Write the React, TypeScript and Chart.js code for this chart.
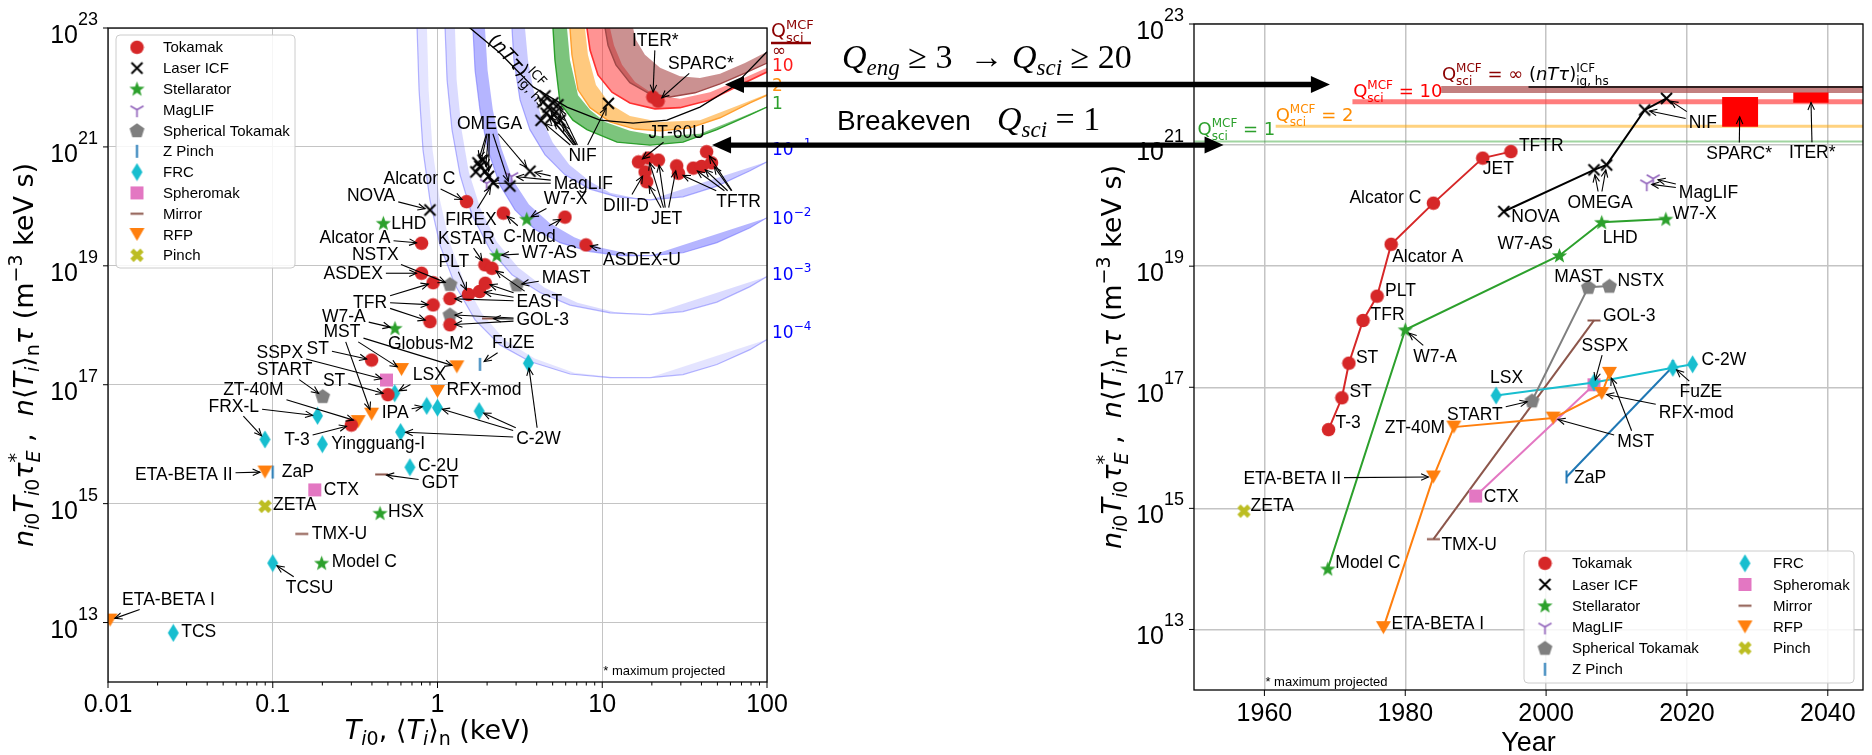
import React, { useEffect, useRef } from 'react';
import { Chart, registerables } from 'chart.js';

Chart.register(...registerables);

const W = 1872;
const H = 755;
const SANS = "'Liberation Sans', Arial, Helvetica, sans-serif";
const DJ = "'DejaVu Sans', sans-serif";
const SERIF = "'Liberation Serif', 'Times New Roman', serif";

/* ================= LEFT PANEL : n T tau vs T ================= */
const L_X_TICKS = [0.01, 0.1, 1, 10, 100];
const L_X_TICK_LABELS = ['0.01', '0.1', '1', '10', '100'];
const Y_TICK_EXP = [13, 15, 17, 19, 21, 23];

// [id, T_i0 (keV), n T tau (m^-3 keV s)]
const L_TOKAMAK = [
  ['ITER', 20.3, 6.9e21], ['SPARC', 21.8, 5.9e21],
  ['JT60U', 16.6, 5.6e20], ['jet1', 19.0, 6.5e20], ['jet2', 21.9, 6.0e20], ['d3d1', 18.2, 3.8e20], ['d3d2', 18.6, 2.6e20],
  ['jet3', 28.3, 4.8e20], ['jet4', 29.0, 3.6e20], ['tftr1', 35.7, 4.4e20], ['tftr2', 40.1, 4.7e20], ['tftr3', 43.0, 8.3e20], ['tftr4', 46.0, 5.4e20],
  ['AlcC', 1.5, 1.2e20], ['CMod1', 2.51, 7.7e19], ['CMod2', 5.94, 6.6e19], ['AUG', 7.97, 2.25e19],
  ['KSTAR', 1.94, 1.04e19], ['east0', 2.14, 9.1e18], ['AlcA', 0.8, 2.4e19], ['ASDEX', 0.8, 7.5e18],
  ['tfr1', 0.94, 5.2e18], ['PLT', 1.54, 3.3e18], ['east1', 1.8, 3.7e18], ['east2', 1.95, 5.1e18], ['east3', 1.19, 2.8e18],
  ['tfr2', 0.94, 2.2e18], ['tfr3', 0.9, 1.15e18], ['gol', 1.19, 1.02e18],
  ['ST1', 0.398, 2.6e17], ['ST2', 0.5, 6.8e16], ['T3', 0.3, 2.1e16],
];
const L_LASER = [
  ['NOVA', 0.9, 8.7e19],
  ['om1', 1.81, 4.7e20], ['om2', 1.95, 3.9e20], ['om3', 2.04, 3.2e20], ['om4', 1.76, 5.4e20], ['om5', 1.89, 6.0e20], ['om6', 1.71, 3.8e20],
  ['om7', 3.64, 3.9e20], ['om8', 2.75, 2.2e20], ['FIREX', 2.18, 2.5e20],
  ['nif1', 4.37, 5.7e21], ['nif2', 4.69, 4.7e21], ['nif3', 5.02, 5.5e21], ['nif4', 4.56, 3.7e21], ['nif5', 5.24, 3.9e21],
  ['nif6', 4.89, 3.1e21], ['nif7', 5.54, 2.8e21], ['nif8', 4.25, 2.8e21], ['nif9', 5.38, 5.1e21], ['nif10', 4.49, 7.2e21],
  ['NIF', 10.9, 5.4e21],
];
const L_STELL = [['LHD', 0.469, 5.2e19], ['W7X', 3.48, 6.1e19], ['W7AS', 2.29, 1.5e19], ['W7A', 0.552, 8.9e17], ['HSX', 0.448, 6.9e14], ['ModelC', 0.198, 1.0e14]];
const L_MAGLIF = [['mag1', 1.99, 2.45e20], ['mag2', 2.82, 3.2e20]];
const L_SPHTOK = [['NSTX', 1.19, 4.9e18], ['MAST', 3.03, 4.8e18], ['Globus', 1.19, 1.5e18], ['START', 0.201, 6.4e16]];
const L_ZPINCH = [['FuZE', 1.81, 2.2e17], ['ZaP', 0.1, 3.4e15]];
const L_FRC = [
  ['C2W1', 3.56, 2.3e17], ['LSX', 0.55, 7.2e16], ['IPA', 0.86, 4.4e16], ['C2W2', 1.0, 4.1e16], ['C2W3', 1.79, 3.6e16],
  ['FRXL1', 0.187, 3.0e16], ['FRXL2', 0.0897, 1.2e16], ['YG', 0.2, 1.0e16], ['C2W4', 0.597, 1.6e16], ['C2U', 0.68, 4.1e15],
  ['TCSU', 0.1, 1e14], ['TCS', 0.0249, 6.7e12],
];
const L_SPHEROMAK = [['SSPX', 0.49, 1.2e17], ['CTX', 0.18, 1.7e15]];
const L_MIRROR = [['GOL3', 2.04, 1.3e18], ['GDT', 0.458, 3.1e15], ['TMXU', 0.15, 3.1e14]];
const L_RFP = [['MST1', 0.605, 1.8e17], ['MST2', 1.31, 2.0e17], ['RFX', 1.0, 7.7e16], ['MST3', 0.398, 3.2e16], ['ZT40M', 0.33, 2.4e16], ['EB2', 0.0897, 3.4e15], ['EB1', 0.0103, 1.1e13]];
const L_PINCH = [['ZETA', 0.0897, 9e14]];

// Contours, as [log10 T, log10 nTtau]
const L_Q1_OUT = [[0.697, 23.4], [0.701, 23], [0.713, 22.46], [0.744, 21.74], [0.822, 21.45], [0.907, 21.29], [1.09, 21.08], [1.29, 21.03], [1.49, 21.08], [1.696, 21.29], [1.897, 21.54], [2.0, 21.67]];
const L_Q1_IN = [[0.78, 23.4], [0.786, 23], [0.804, 22.46], [0.853, 21.87], [0.926, 21.62], [1.017, 21.42], [1.168, 21.27], [1.351, 21.18], [1.593, 21.22], [1.836, 21.49], [2.0, 21.68]];
const L_Q2_OUT = [[0.8, 23.4], [0.804, 23], [0.816, 22.55], [0.853, 21.96], [0.926, 21.66], [1.047, 21.42], [1.199, 21.3], [1.351, 21.27], [1.533, 21.32], [1.715, 21.49], [1.897, 21.74], [2.0, 21.87]];
const L_Q2_IN = [[0.89, 23.4], [0.895, 23], [0.913, 22.55], [0.962, 22.04], [1.047, 21.72], [1.168, 21.52], [1.351, 21.42], [1.593, 21.45], [1.836, 21.71], [2.0, 21.89]];
const L_Q10_OUT = [[0.9, 23.4], [0.907, 23], [0.926, 22.63], [0.974, 22.21], [1.059, 21.92], [1.168, 21.74], [1.32, 21.64], [1.472, 21.66], [1.654, 21.79], [1.836, 22.04], [2.0, 22.26]];
const L_Q10_IN = [[1.04, 23.4], [1.047, 23], [1.071, 22.71], [1.12, 22.38], [1.199, 22.09], [1.32, 21.87], [1.472, 21.81], [1.654, 21.92], [1.836, 22.13], [2.0, 22.33]];
const L_QINF_OUT = [[1.01, 23.4], [1.017, 23], [1.035, 22.71], [1.083, 22.38], [1.168, 22.08], [1.29, 21.89], [1.411, 21.84], [1.563, 21.91], [1.715, 22.06], [1.866, 22.24], [2.0, 22.41]];
const L_QINF_IN = [[1.18, 23.4], [1.187, 23], [1.205, 22.8], [1.259, 22.55], [1.351, 22.33], [1.472, 22.19], [1.593, 22.16], [1.715, 22.23], [1.866, 22.41], [2.0, 22.6]];
const L_B1_OUT = [[0.448, 23.4], [0.452, 23], [0.464, 22.46], [0.501, 21.79], [0.561, 21.29], [0.652, 20.87], [0.774, 20.53], [0.926, 20.29], [1.09, 20.16], [1.29, 20.11], [1.49, 20.16], [1.696, 20.34], [1.897, 20.6], [2.0, 20.75]];
const L_B1_IN = [[0.527, 23.4], [0.531, 23], [0.549, 22.46], [0.58, 21.99], [0.635, 21.45], [0.7, 21.07], [0.8, 20.7], [0.926, 20.42], [1.047, 20.23], [1.199, 20.14], [1.29, 20.11]];
const L_B2_OUT = [[0.211, 23.4], [0.215, 23], [0.228, 22.29], [0.258, 21.62], [0.306, 20.95], [0.379, 20.36], [0.47, 19.94], [0.592, 19.61], [0.744, 19.39], [0.926, 19.24], [1.108, 19.17], [1.29, 19.17], [1.49, 19.22], [1.696, 19.39], [1.897, 19.64], [2.0, 19.81]];
const L_B2_IN = [[0.284, 23.4], [0.288, 23], [0.304, 22.29], [0.336, 21.62], [0.385, 21.0], [0.455, 20.45], [0.555, 20.03], [0.68, 19.72], [0.83, 19.48], [0.986, 19.31], [1.168, 19.2], [1.29, 19.17]];
const L_B3_OUT = [[0.042, 23.4], [0.046, 23], [0.058, 22.13], [0.088, 21.29], [0.137, 20.53], [0.209, 19.86], [0.319, 19.27], [0.452, 18.85], [0.622, 18.55], [0.804, 18.34], [1.047, 18.21], [1.29, 18.18], [1.49, 18.23], [1.696, 18.39], [1.897, 18.65], [2.0, 18.82]];
const L_B3_IN = [[0.102, 23.4], [0.106, 23], [0.116, 22.13], [0.146, 21.29], [0.19, 20.58], [0.258, 19.98], [0.36, 19.4], [0.49, 18.97], [0.65, 18.63], [0.85, 18.38], [1.08, 18.22], [1.29, 18.18]];
const L_B4_OUT = [[-0.128, 23.4], [-0.124, 23], [-0.112, 21.96], [-0.088, 20.95], [-0.046, 20.11], [0.015, 19.35], [0.106, 18.68], [0.228, 18.09], [0.379, 17.67], [0.561, 17.39], [0.804, 17.18], [1.047, 17.12], [1.29, 17.12], [1.49, 17.17], [1.696, 17.34], [1.897, 17.59], [2.0, 17.76]];
const L_B4_IN = [[-0.068, 23.4], [-0.064, 23], [-0.054, 21.96], [-0.03, 20.95], [0.012, 20.14], [0.07, 19.43], [0.155, 18.78], [0.27, 18.2], [0.41, 17.75], [0.59, 17.44], [0.83, 17.2], [1.06, 17.13], [1.29, 17.12]];
const L_ICF = [[0.1, 23.3], [0.197, 23], [0.379, 22.58], [0.58, 22.01], [0.786, 21.67], [0.986, 21.45], [1.187, 21.4], [1.393, 21.45], [1.593, 21.67], [1.794, 22.01], [2.0, 22.6]];

const L_QLABELS = [['∞', '#8b0000', 22.6], ['10', '#ff1a1a', 22.35], ['2', '#ff9010', 22.01], ['1', '#2ca02c', 21.71]];
const L_BLUE_LABELS = [['−1', 20.97], ['−2', 19.81], ['−3', 18.87], ['−4', 17.88]];

// label text, targets, offset of label (left, middle) from first target in px
const L_ANN = [
  { text: 'ITER*', to: ['ITER'], dx: -21, dy: -57 },
  { text: 'SPARC*', to: ['SPARC'], dx: 10, dy: -38 },
  { text: 'NIF', to: ['NIF', 'nif7', 'nif4', 'nif6', 'nif8', 'nif2', 'nif5', 'nif9'], dx: -40, dy: 52 },
  { text: 'OMEGA', to: ['om1', 'om2', 'om3', 'om4', 'om7', 'om8'], dx: -23, dy: -43 },
  { text: 'JT-60U', to: ['JT60U'], dx: 10, dy: -30 },
  { text: 'DIII-D', to: ['d3d1'], dx: -42, dy: 33 },
  { text: 'JET', to: ['jet1', 'd3d2', 'jet2', 'jet3'], dx: 3, dy: 60 },
  { text: 'TFTR', to: ['tftr1', 'tftr2', 'tftr3', 'tftr4', 'jet4'], dx: 23, dy: 33 },
  { text: 'MagLIF', to: ['mag1', 'mag2', 'om7'], dx: 67, dy: 0 },
  { text: 'W7-X', to: ['W7X'], dx: 17, dy: -21 },
  { text: 'FIREX', to: ['FIREX'], dx: -48, dy: 36 },
  { text: 'C-Mod', to: ['CMod1', 'CMod2'], dx: 0, dy: 23 },
  { text: 'KSTAR', to: ['KSTAR'], dx: -47, dy: -27 },
  { text: 'W7-AS', to: ['W7AS'], dx: 25, dy: -3 },
  { text: 'ASDEX-U', to: ['AUG'], dx: 17, dy: 14 },
  { text: 'PLT', to: ['PLT'], dx: -30, dy: -33 },
  { text: 'MAST', to: ['MAST'], dx: 25, dy: -8 },
  { text: 'EAST', to: ['east1', 'east2', 'east3', 'east0'], dx: 37, dy: 10 },
  { text: 'GOL-3', to: ['GOL3', 'gol', 'Globus'], dx: 28, dy: 1 },
  { text: 'Globus-M2', to: ['Globus'], dx: -62, dy: 28, na: true },
  { text: 'FuZE', to: ['FuZE'], dx: 12, dy: -22 },
  { text: 'ASDEX', to: ['ASDEX'], dx: -98, dy: 0 },
  { text: 'NSTX', to: ['NSTX'], dx: -98, dy: -30 },
  { text: 'Alcator A', to: ['AlcA'], dx: -102, dy: -6 },
  { text: 'LHD', to: ['LHD'], dx: 8, dy: 0, na: true },
  { text: 'NOVA', to: ['NOVA'], dx: -83, dy: -15 },
  { text: 'Alcator C', to: ['AlcC'], dx: -83, dy: -23 },
  { text: 'TFR', to: ['tfr1', 'tfr2', 'tfr3'], dx: -80, dy: 19 },
  { text: 'W7-A', to: ['W7A'], dx: -73, dy: -12 },
  { text: 'MST', to: ['MST1', 'MST2', 'MST3'], dx: -78, dy: -38 },
  { text: 'SSPX', to: ['SSPX'], dx: -130, dy: -28 },
  { text: 'ST', to: ['ST1'], dx: -65, dy: -12 },
  { text: 'START', to: ['START'], dx: -66, dy: -27 },
  { text: 'ST', to: ['ST2'], dx: -65, dy: -15 },
  { text: 'LSX', to: ['LSX'], dx: 18, dy: -19 },
  { text: 'RFX-mod', to: ['RFX'], dx: 9, dy: -2, na: true },
  { text: 'ZT-40M', to: ['ZT40M'], dx: -135, dy: -32 },
  { text: 'IPA', to: ['IPA'], dx: -45, dy: 6 },
  { text: 'FRX-L', to: ['FRXL1', 'FRXL2'], dx: -109, dy: -10 },
  { text: 'T-3', to: ['T3'], dx: -67, dy: 14 },
  { text: 'Yingguang-I', to: ['YG'], dx: 9, dy: -1, na: true },
  { text: 'C-2W', to: ['C2W3', 'C2W2', 'C2W4', 'C2W1'], dx: 37, dy: 27 },
  { text: 'C-2U', to: ['C2U'], dx: 8, dy: -2, na: true },
  { text: 'GDT', to: ['GDT'], dx: 40, dy: 8 },
  { text: 'ZaP', to: ['ZaP'], dx: 9, dy: -1, na: true },
  { text: 'ETA-BETA II', to: ['EB2'], dx: -130, dy: 2 },
  { text: 'CTX', to: ['CTX'], dx: 9, dy: -1, na: true },
  { text: 'ZETA', to: ['ZETA'], dx: 8, dy: -2, na: true },
  { text: 'HSX', to: ['HSX'], dx: 8, dy: -2, na: true },
  { text: 'TMX-U', to: ['TMXU'], dx: 10, dy: -1, na: true },
  { text: 'Model C', to: ['ModelC'], dx: 10, dy: -2, na: true },
  { text: 'TCSU', to: ['TCSU'], dx: 13, dy: 24 },
  { text: 'ETA-BETA I', to: ['EB1'], dx: 12, dy: -21 },
  { text: 'TCS', to: ['TCS'], dx: 8, dy: -2, na: true },
];

/* ================= RIGHT PANEL : n T tau vs year ================= */
const R_X_TICKS = [1960, 1980, 2000, 2020, 2040];
// [name, year, n T tau]
const R_TOKAMAK = [['T-3', 1969.1, 2e16], ['ST a', 1971.0, 6.7e16], ['ST b', 1972.0, 2.5e17], ['TFR', 1974.0, 1.27e18], ['PLT', 1976.0, 3.2e18], ['Alcator A', 1978.0, 2.3e19], ['Alcator C', 1984.0, 1.1e20], ['JET', 1991.0, 6.1e20], ['TFTR', 1995.0, 7.8e20]];
const R_LASER = [['NOVA', 1994.0, 8e19], ['OMEGA a', 2006.8, 3.9e20], ['OMEGA b', 2008.6, 4.7e20], ['NIF a', 2014.0, 3.8e21], ['NIF b', 2017.1, 5.9e21]];
const R_STELL = [['Model C', 1969.0, 1e14], ['W7-A', 1980.0, 8.9e17], ['W7-AS', 2001.9, 1.5e19], ['LHD', 2007.9, 5.3e19], ['W7-X', 2017.0, 6e19]];
const R_MAGLIF = [['MagLIF a', 2014.3, 2.3e20], ['MagLIF b', 2015.2, 2.8e20]];
const R_SPHTOK = [['START', 1998.0, 6e16], ['MAST', 2006.0, 4.5e18], ['NSTX', 2009.0, 4.7e18]];
const R_ZPINCH = [['ZaP', 2002.9, 3.3e15], ['FuZE', 2018.0, 2.2e17]];
const R_FRC = [['LSX', 1992.9, 7.3e16], ['FRC b', 2006.8, 1.2e17], ['FRC c', 2018.0, 2.1e17], ['C-2W', 2020.8, 2.4e17]];
const R_SPHEROMAK = [['CTX', 1990.0, 1.6e15], ['SSPX', 2006.8, 1.1e17]];
const R_MIRROR = [['TMX-U', 1984.0, 3.1e14], ['GOL-3', 2006.8, 1.27e18]];
const R_RFP = [['ETA-BETA I', 1976.9, 1.07e13], ['ETA-BETA II', 1984.0, 3.3e15], ['ZT-40M', 1986.9, 2.2e16], ['MST a', 2001.0, 3.1e16], ['RFX-mod', 2007.9, 7.9e16], ['MST b', 2009.0, 1.7e17]];
const R_PINCH = [['ZETA', 1957.1, 9e14]];
const R_BOXES = [['SPARCbox', 2027.5, 3.55e21], ['ITERbox', 2037.6, 6.1e21]];

const R_Q1 = [[1950, 1.15e21], [2045, 1.15e21]];
const R_Q2 = [[1961.6, 2.04e21], [2045, 2.04e21]];
const R_Q10 = [[1972.5, 5.2e21], [2045, 5.2e21]];
const R_QINF = [[1985.1, 8.3e21], [2045, 8.3e21]];
const R_ICF = [[1997.5, 9.1e21], [2045, 9.1e21]];
const R_SPARC = [[2025.0, 2.0e21], [2030.1, 2.0e21], [2030.1, 6.2e21], [2025.0, 6.2e21]];
const R_ITER = [[2035.1, 5.0e21], [2040.1, 5.0e21], [2040.1, 7.4e21], [2035.1, 7.4e21]];

const R_ANN = [
  { text: 'T-3', to: ['T-3'], dx: 7, dy: -7, na: true },
  { text: 'ST', to: ['ST a'], dx: 7.5, dy: -6.6, na: true },
  { text: 'ST', to: ['ST b'], dx: 7, dy: -5.7, na: true },
  { text: 'TFR', to: ['TFR'], dx: 7.5, dy: -6.4, na: true },
  { text: 'PLT', to: ['PLT'], dx: 8, dy: -6, na: true },
  { text: 'Alcator A', to: ['Alcator A'], dx: 1, dy: 12, na: true },
  { text: 'Alcator C', to: ['Alcator C'], dx: -84, dy: -6, na: true },
  { text: 'JET', to: ['JET'], dx: 0, dy: 10, na: true },
  { text: 'TFTR', to: ['TFTR'], dx: 8, dy: -6, na: true },
  { text: 'NOVA', to: ['NOVA'], dx: 7.5, dy: 5, na: true },
  { text: 'OMEGA', to: ['OMEGA a', 'OMEGA b'], dx: -26.5, dy: 32 },
  { text: 'NIF', to: ['NIF a', 'NIF b'], dx: 44, dy: 12 },
  { text: 'MagLIF', to: ['MagLIF a', 'MagLIF b'], dx: 32, dy: 8 },
  { text: 'Model C', to: ['Model C'], dx: 7.5, dy: -6.7, na: true },
  { text: 'W7-A', to: ['W7-A'], dx: 8, dy: 26 },
  { text: 'W7-AS', to: ['W7-AS'], dx: -62, dy: -12, na: true },
  { text: 'LHD', to: ['LHD'], dx: 1, dy: 15, na: true },
  { text: 'W7-X', to: ['W7-X'], dx: 7, dy: -6, na: true },
  { text: 'START', to: ['START'], dx: -85, dy: 13 },
  { text: 'MAST', to: ['MAST'], dx: -34, dy: -11, na: true },
  { text: 'NSTX', to: ['NSTX'], dx: 8, dy: -6, na: true },
  { text: 'ZaP', to: ['ZaP'], dx: 7.5, dy: 0, na: true },
  { text: 'FuZE', to: ['FuZE'], dx: 6.6, dy: 25 },
  { text: 'LSX', to: ['LSX'], dx: -6, dy: -18, na: true },
  { text: 'C-2W', to: ['C-2W'], dx: 9, dy: -5, na: true },
  { text: 'CTX', to: ['CTX'], dx: 8, dy: 0, na: true },
  { text: 'SSPX', to: ['SSPX'], dx: -12.4, dy: -40 },
  { text: 'TMX-U', to: ['TMX-U'], dx: 8, dy: 5, na: true },
  { text: 'GOL-3', to: ['GOL-3'], dx: 9, dy: -5.7, na: true },
  { text: 'ETA-BETA I', to: ['ETA-BETA I'], dx: 8, dy: -4.3, na: true },
  { text: 'ETA-BETA II', to: ['ETA-BETA II'], dx: -190, dy: 1 },
  { text: 'ZT-40M', to: ['ZT-40M'], dx: -69, dy: 0, na: true },
  { text: 'MST', to: ['MST a', 'MST b'], dx: 64, dy: 23 },
  { text: 'RFX-mod', to: ['RFX-mod'], dx: 57, dy: 19 },
  { text: 'ZETA', to: ['ZETA'], dx: 6.6, dy: -5.7, na: true },
  { text: 'SPARC*', to: ['SPARCbox'], dx: -33.5, dy: 41 },
  { text: 'ITER*', to: ['ITERbox'], dx: -22, dy: 55 },
];

const LEGEND = [['Tokamak', 'tok'], ['Laser ICF', 'icf'], ['Stellarator', 'stel'], ['MagLIF', 'mag'], ['Spherical Tokamak', 'sph'], ['Z Pinch', 'zp'], ['FRC', 'frc'], ['Spheromak', 'spm'], ['Mirror', 'mir'], ['RFP', 'rfp'], ['Pinch', 'pin']];

/* ================= helpers ================= */
function makeMarkers(): any {
  const mk = (w: number, h: number, f: (g: CanvasRenderingContext2D) => void) => {
    const c = document.createElement('canvas');
    c.width = w; c.height = h;
    f(c.getContext('2d') as CanvasRenderingContext2D);
    return c;
  };
  const poly = (g: any, n: number, cx: number, cy: number, rOut: number, rIn: number) => {
    g.beginPath();
    const k = rIn ? 2 * n : n;
    for (let i = 0; i < k; i++) {
      const r = rIn && i % 2 ? rIn : rOut;
      const a = -Math.PI / 2 + (i * 2 * Math.PI) / k;
      const x = cx + r * Math.cos(a), y = cy + r * Math.sin(a);
      if (i) g.lineTo(x, y); else g.moveTo(x, y);
    }
    g.closePath();
  };
  return {
    tok: mk(15, 15, (g) => { g.fillStyle = '#d62728'; g.beginPath(); g.arc(7.5, 7.5, 6.8, 0, Math.PI * 2); g.fill(); }),
    icf: mk(15, 15, (g) => { g.strokeStyle = '#000'; g.lineWidth = 2; g.beginPath(); g.moveTo(2, 2); g.lineTo(13, 13); g.moveTo(13, 2); g.lineTo(2, 13); g.stroke(); }),
    stel: mk(17, 17, (g) => { g.fillStyle = '#2ca02c'; poly(g, 5, 8.5, 9, 8, 3.3); g.fill(); }),
    mag: mk(17, 17, (g) => { g.strokeStyle = '#9467bd'; g.lineWidth = 1.7; g.beginPath(); g.moveTo(8.5, 8.5); g.lineTo(8.5, 16); g.moveTo(8.5, 8.5); g.lineTo(2, 4.8); g.moveTo(8.5, 8.5); g.lineTo(15, 4.8); g.stroke(); }),
    sph: mk(17, 17, (g) => { g.fillStyle = '#7f7f7f'; poly(g, 5, 8.5, 9, 7.8, 0); g.fill(); }),
    zp: mk(5, 15, (g) => { g.strokeStyle = '#1f77b4'; g.lineWidth = 2; g.beginPath(); g.moveTo(2.5, 1); g.lineTo(2.5, 14); g.stroke(); }),
    frc: mk(13, 19, (g) => { g.fillStyle = '#17becf'; g.beginPath(); g.moveTo(6.5, 0.5); g.lineTo(12, 9.5); g.lineTo(6.5, 18.5); g.lineTo(1, 9.5); g.closePath(); g.fill(); }),
    spm: mk(15, 15, (g) => { g.fillStyle = '#e377c2'; g.fillRect(1, 1, 13, 13); }),
    mir: mk(15, 5, (g) => { g.strokeStyle = '#8c564b'; g.lineWidth = 2; g.beginPath(); g.moveTo(1, 2.5); g.lineTo(14, 2.5); g.stroke(); }),
    rfp: mk(17, 15, (g) => { g.fillStyle = '#ff7f0e'; g.beginPath(); g.moveTo(1, 1); g.lineTo(16, 1); g.lineTo(8.5, 14); g.closePath(); g.fill(); }),
    pin: mk(15, 15, (g) => { g.strokeStyle = '#bcbd22'; g.lineWidth = 4.6; g.lineCap = 'butt'; g.beginPath(); g.moveTo(2.5, 2.5); g.lineTo(12.5, 12.5); g.moveTo(12.5, 2.5); g.lineTo(2.5, 12.5); g.stroke(); }),
  };
}

function segW(ctx: any, s: any): number {
  if (s.st) return Math.max(segW(ctx, s.st[0]), segW(ctx, s.st[1]));
  ctx.font = s.f;
  return ctx.measureText(s.t).width;
}
function richW(ctx: any, segs: any[]) { return segs.reduce((a, s) => a + segW(ctx, s), 0); }
function drawRich(ctx: any, segs: any[], x: number, y: number, align = 'left', color = '#000') {
  const tw = richW(ctx, segs);
  let cx = align === 'center' ? x - tw / 2 : align === 'right' ? x - tw : x;
  ctx.textAlign = 'left';
  ctx.textBaseline = 'alphabetic';
  for (const s of segs) {
    const w = segW(ctx, s);
    const list = s.st ? s.st : [s];
    for (const p of list) {
      ctx.font = p.f;
      ctx.fillStyle = p.c || color;
      ctx.fillText(p.t, cx, y + (p.dy || 0));
    }
    cx += w;
  }
}
const mi = (px: number) => `italic ${px}px ${DJ}`;
const mr = (px: number) => `${px}px ${DJ}`;

function yTitle(b: number) {
  const s = Math.round(b * 0.7);
  return [
    { t: 'n', f: mi(b) }, { t: 'i', f: mi(s), dy: 6 }, { t: '0', f: mr(s), dy: 6 },
    { t: 'T', f: mi(b) }, { t: 'i', f: mi(s), dy: 6 }, { t: '0', f: mr(s), dy: 6 },
    { t: 'τ', f: mi(b) }, { st: [{ t: '*', f: mr(s), dy: -11 }, { t: 'E', f: mi(s), dy: 7 }] },
    { t: ' ,  ', f: mr(b) },
    { t: 'n', f: mi(b) }, { t: '⟨', f: mr(b) }, { t: 'T', f: mi(b) }, { t: 'i', f: mi(s), dy: 6 }, { t: '⟩', f: mr(b) }, { t: 'n', f: mr(s), dy: 6 },
    { t: 'τ', f: mi(b) }, { t: ' (m', f: mr(b) }, { t: '−3', f: mr(s), dy: -11 }, { t: ' keV s)', f: mr(b) },
  ];
}

function drawPow(ctx: any, e: number, xr: number, y: number) {
  ctx.textAlign = 'left';
  ctx.textBaseline = 'alphabetic';
  ctx.fillStyle = '#000';
  ctx.font = `18px ${SANS}`;
  const sw = ctx.measureText(String(e)).width;
  ctx.font = `25px ${SANS}`;
  const bw = ctx.measureText('10').width;
  ctx.fillText('10', xr - sw - bw, y + 15);
  ctx.font = `18px ${SANS}`;
  ctx.fillText(String(e), xr - sw, y - 3);
}

function arrowLine(ctx: any, sx: number, sy: number, ex: number, ey: number) {
  ctx.beginPath(); ctx.moveTo(sx, sy); ctx.lineTo(ex, ey); ctx.stroke();
  const a = Math.atan2(ey - sy, ex - sx), h = 8, o = 0.42;
  ctx.beginPath();
  ctx.moveTo(ex - h * Math.cos(a - o), ey - h * Math.sin(a - o));
  ctx.lineTo(ex, ey);
  ctx.lineTo(ex - h * Math.cos(a + o), ey - h * Math.sin(a + o));
  ctx.stroke();
}

function drawAnns(ctx: any, chart: any, pmap: any, anns: any[], fsize: number) {
  const xs = chart.scales.x, ys = chart.scales.y;
  ctx.save();
  ctx.font = `${fsize}px ${SANS}`;
  ctx.fillStyle = '#000'; ctx.strokeStyle = '#000'; ctx.lineWidth = 1.1;
  ctx.textAlign = 'left'; ctx.textBaseline = 'middle';
  for (const a of anns) {
    const tg = a.to.map((id: string) => { const p = pmap[id]; return [xs.getPixelForValue(p[0]), ys.getPixelForValue(p[1])]; });
    const x0 = tg[0][0] + a.dx, cy = tg[0][1] + a.dy;
    const w = ctx.measureText(a.text).width;
    if (!a.na) {
      const cx = x0 + w / 2, hw = w / 2 + 3, hh = fsize * 0.42 + 3;
      for (const [tx, ty] of tg) {
        const ddx = tx - cx, ddy = ty - cy;
        const s = Math.min(ddx ? hw / Math.abs(ddx) : Infinity, ddy ? hh / Math.abs(ddy) : Infinity);
        if (s >= 1) continue;
        const sx = cx + ddx * s, sy = cy + ddy * s;
        const len = Math.hypot(tx - sx, ty - sy);
        const sh = Math.min(5, len * 0.3);
        arrowLine(ctx, sx, sy, tx - ((tx - sx) / len) * sh, ty - ((ty - sy) / len) * sh);
      }
    }
    ctx.fillText(a.text, x0, cy + 1);
  }
  ctx.restore();
}

function legendBox(ctx: any, x: number, y: number, w: number, h: number) {
  ctx.save();
  ctx.fillStyle = 'rgba(255,255,255,0.85)';
  ctx.strokeStyle = '#cccccc';
  ctx.lineWidth = 1;
  ctx.beginPath();
  if (ctx.roundRect) ctx.roundRect(x, y, w, h, 4); else ctx.rect(x, y, w, h);
  ctx.fill(); ctx.stroke();
  ctx.restore();
}

function fatArrow(ctx: any, x1: number, x2: number, y: number) {
  const hl = 19, hw = 8.5, sw = 2.7;
  ctx.beginPath();
  ctx.moveTo(x1, y); ctx.lineTo(x1 + hl, y - hw); ctx.lineTo(x1 + hl, y - sw); ctx.lineTo(x2 - hl, y - sw);
  ctx.lineTo(x2 - hl, y - hw); ctx.lineTo(x2, y); ctx.lineTo(x2 - hl, y + hw); ctx.lineTo(x2 - hl, y + sw);
  ctx.lineTo(x1 + hl, y + sw); ctx.lineTo(x1 + hl, y + hw); ctx.closePath(); ctx.fill();
}

const lg = (arr: number[][]) => arr.map((r) => ({ x: 10 ** r[0], y: 10 ** r[1] }));
const xy = (arr: number[][]) => arr.map((r) => ({ x: r[0], y: r[1] }));
const pts = (arr: any[]) => arr.map((r) => ({ x: r[1], y: r[2] }));
const pmapOf = (...arrs: any[][]) => { const m: any = {}; arrs.forEach((a) => a.forEach((r) => { m[r[0]] = [r[1], r[2]]; })); return m; };

/* ================= App ================= */
export default function App() {
  const lRef = useRef<HTMLCanvasElement>(null);
  const rRef = useRef<HTMLCanvasElement>(null);

  useEffect(() => {
    const M = makeMarkers();

    const band = (outer: number[][], inner: number[][], fillC: string, lineC: string, lw: number, order: number) => [
      { data: lg([...outer, ...inner.slice().reverse()]), fill: 'shape', backgroundColor: fillC, borderColor: 'transparent', borderWidth: 0, pointRadius: 0, order },
      { data: lg(outer), fill: false, borderColor: lineC, borderWidth: lw, pointRadius: 0, order: order - 1 },
    ];
    const marks = (arr: any[], img: any, order: number) => ({ data: pts(arr), showLine: false, pointStyle: img, pointRadius: 7, order });

    const LPM = pmapOf(L_TOKAMAK, L_LASER, L_STELL, L_MAGLIF, L_SPHTOK, L_ZPINCH, L_FRC, L_SPHEROMAK, L_MIRROR, L_RFP, L_PINCH);

    const leftDecor = {
      id: 'leftDecor',
      afterDatasetsDraw(chart: any) {
        const ctx = chart.ctx, a = chart.chartArea, xs = chart.scales.x, ys = chart.scales.y;
        ctx.save();
        // ICF curve label
        ctx.save();
        ctx.translate(xs.getPixelForValue(1.99), ys.getPixelForValue(6.0e22));
        ctx.rotate((47 * Math.PI) / 180);
        drawRich(ctx, [
          { t: '(', f: mr(19) }, { t: 'nTτ', f: mi(19) }, { t: ')', f: mr(19) },
          { st: [{ t: 'ICF', f: mr(13), dy: -9 }, { t: 'ig, hs', f: mr(13), dy: 6 }] },
        ], 0, 0);
        ctx.restore();
        // annotations
        drawAnns(ctx, chart, LPM, L_ANN, 17.5);
        // frame
        ctx.strokeStyle = '#000'; ctx.lineWidth = 1.3;
        ctx.strokeRect(a.left, a.top, a.right - a.left, a.bottom - a.top);
        // x ticks
        ctx.lineWidth = 1;
        for (let d = -2; d <= 2; d++) {
          for (let k = 1; k < 10; k++) {
            const v = k * 10 ** d;
            if (v > 100.0001) break;
            const x = xs.getPixelForValue(v);
            ctx.beginPath(); ctx.moveTo(x, a.bottom); ctx.lineTo(x, a.bottom + (k === 1 ? 6 : 3.5)); ctx.stroke();
          }
        }
        ctx.font = `25px ${SANS}`; ctx.textAlign = 'center'; ctx.textBaseline = 'alphabetic'; ctx.fillStyle = '#000';
        L_X_TICKS.forEach((v, i) => ctx.fillText(L_X_TICK_LABELS[i], xs.getPixelForValue(v), a.bottom + 30));
        // y ticks
        Y_TICK_EXP.forEach((e) => {
          const y = ys.getPixelForValue(10 ** e);
          ctx.beginPath(); ctx.moveTo(a.left, y); ctx.lineTo(a.left - 5, y); ctx.stroke();
          drawPow(ctx, e, a.left - 10, y);
        });
        // axis titles
        drawRich(ctx, [
          { t: 'T', f: mi(27) }, { t: 'i', f: mi(19), dy: 6 }, { t: '0', f: mr(19), dy: 6 }, { t: ', ⟨', f: mr(27) },
          { t: 'T', f: mi(27) }, { t: 'i', f: mi(19), dy: 6 }, { t: '⟩', f: mr(27) }, { t: 'n', f: mr(19), dy: 6 }, { t: ' (keV)', f: mr(27) },
        ], (a.left + a.right) / 2, a.bottom + 57, 'center');
        ctx.save();
        ctx.translate(a.left - 75, (a.top + a.bottom) / 2);
        ctx.rotate(-Math.PI / 2);
        drawRich(ctx, yTitle(27), 0, 0, 'center');
        ctx.restore();
        // Q labels at right
        const qx = a.right + 4;
        drawRich(ctx, [{ t: 'Q', f: mr(19) }, { st: [{ t: 'MCF', f: mr(13), dy: -8 }, { t: 'sci', f: mr(13), dy: 5 }] }], qx, a.top + 9, 'left', '#8b0000');
        ctx.strokeStyle = '#8b0000'; ctx.lineWidth = 2.5;
        ctx.beginPath(); ctx.moveTo(qx, a.top + 15); ctx.lineTo(qx + 40, a.top + 15); ctx.stroke();
        ctx.textBaseline = 'middle'; ctx.textAlign = 'left';
        L_QLABELS.forEach(([t, c, ly]: any) => { ctx.font = mr(17); ctx.fillStyle = c; ctx.fillText(t, qx + 1, ys.getPixelForValue(10 ** ly)); });
        L_BLUE_LABELS.forEach(([t, ly]: any) => {
          drawRich(ctx, [{ t: '10', f: mr(17) }, { t, f: mr(12), dy: -8 }], qx + 1, ys.getPixelForValue(10 ** ly) + 6, 'left', '#0000ff');
        });
        // footnote
        ctx.font = `13px ${SANS}`; ctx.fillStyle = '#000'; ctx.textAlign = 'left'; ctx.textBaseline = 'alphabetic';
        ctx.fillText('* maximum projected', xs.getPixelForValue(10) + 1, a.bottom - 7);
        // legend
        const bx = a.left + 8, by = a.top + 7;
        legendBox(ctx, bx, by, 179, 233);
        ctx.font = `15px ${SANS}`; ctx.fillStyle = '#000'; ctx.textBaseline = 'middle';
        LEGEND.forEach(([lab, k], i) => {
          const img = M[k], yy = by + 12.3 + i * 20.8;
          ctx.drawImage(img, bx + 21 - img.width / 2, yy - img.height / 2);
          ctx.fillText(lab, bx + 47, yy + 1);
        });
        ctx.restore();
      },
    };

    const left = new Chart(lRef.current as HTMLCanvasElement, {
      type: 'line',
      data: {
        datasets: [
          ...band(L_B4_OUT, L_B4_IN, 'rgba(90,90,255,0.16)', 'rgba(110,110,255,0.5)', 1.2, 41),
          ...band(L_B3_OUT, L_B3_IN, 'rgba(90,90,255,0.22)', 'rgba(110,110,255,0.5)', 1.2, 39),
          ...band(L_B2_OUT, L_B2_IN, 'rgba(70,70,255,0.4)', 'rgba(110,110,255,0.55)', 1.2, 37),
          ...band(L_B1_OUT, L_B1_IN, 'rgba(80,80,255,0.3)', 'rgba(110,110,255,0.55)', 1.2, 35),
          ...band(L_Q1_OUT, L_Q1_IN, 'rgba(44,160,44,0.62)', '#2ca02c', 1.4, 33),
          ...band(L_Q2_OUT, L_Q2_IN, 'rgba(255,165,40,0.6)', '#ffa030', 1.4, 31),
          ...band(L_Q10_OUT, L_Q10_IN, 'rgba(255,40,40,0.5)', '#ff3030', 1.6, 29),
          ...band(L_QINF_OUT, L_QINF_IN, 'rgba(160,55,55,0.55)', '#a04848', 1.4, 27),
          { data: lg(L_ICF), fill: false, borderColor: '#000', borderWidth: 1.3, pointRadius: 0, order: 20 },
          marks(L_PINCH, M.pin, 11),
          marks(L_MIRROR, M.mir, 10),
          marks(L_SPHEROMAK, M.spm, 9),
          marks(L_FRC, M.frc, 8),
          marks(L_ZPINCH, M.zp, 7),
          marks(L_SPHTOK, M.sph, 6),
          marks(L_MAGLIF, M.mag, 5),
          marks(L_STELL, M.stel, 4),
          marks(L_RFP, M.rfp, 3),
          marks(L_TOKAMAK, M.tok, 2),
          marks(L_LASER, M.icf, 1),
        ],
      },
      options: {
        responsive: false, animation: false, devicePixelRatio: 1, events: [],
        layout: { padding: { left: 108, top: 28, right: W - 767, bottom: H - 682 } },
        plugins: { legend: { display: false }, tooltip: { enabled: false } },
        scales: {
          x: {
            type: 'logarithmic', min: 0.01, max: 100,
            grid: { color: '#c4c4c4', lineWidth: 1, drawTicks: false }, border: { display: false }, ticks: { display: false },
            afterBuildTicks: (s: any) => { s.ticks = L_X_TICKS.map((v) => ({ value: v })); },
          },
          y: {
            type: 'logarithmic', min: 1e12, max: 1e23,
            grid: { color: '#c4c4c4', lineWidth: 1, drawTicks: false }, border: { display: false }, ticks: { display: false },
            afterBuildTicks: (s: any) => { s.ticks = Y_TICK_EXP.map((e) => ({ value: 10 ** e })); },
          },
        },
      },
      plugins: [leftDecor],
    } as any);

    const RPM = pmapOf(R_TOKAMAK, R_LASER, R_STELL, R_MAGLIF, R_SPHTOK, R_ZPINCH, R_FRC, R_SPHEROMAK, R_MIRROR, R_RFP, R_PINCH, R_BOXES);

    const rightDecor = {
      id: 'rightDecor',
      afterDatasetsDraw(chart: any) {
        const ctx = chart.ctx, a = chart.chartArea, xs = chart.scales.x, ys = chart.scales.y;
        ctx.save();
        // Q line labels
        const q = (n: string, c: string) => [{ t: 'Q', f: mr(18), c }, { st: [{ t: 'MCF', f: mr(12), dy: -8, c }, { t: 'sci', f: mr(12), dy: 5, c }] }, { t: n, f: mr(18), c }];
        drawRich(ctx, q(' = 1', '#2ca02c'), xs.getPixelForValue(1950.5), ys.getPixelForValue(1.47e21));
        drawRich(ctx, q(' = 2', '#ff8c00'), xs.getPixelForValue(1961.6), ys.getPixelForValue(2.5e21));
        drawRich(ctx, q(' = 10', '#ff0000'), xs.getPixelForValue(1972.6), ys.getPixelForValue(6.2e21));
        drawRich(ctx, [...q(' = ∞ ', '#8b0000'), { t: '(', f: mr(18) }, { t: 'nTτ', f: mi(18) }, { t: ')', f: mr(18) },
          { st: [{ t: 'ICF', f: mr(12), dy: -8 }, { t: 'ig, hs', f: mr(12), dy: 5 }] }], xs.getPixelForValue(1985.2), ys.getPixelForValue(1.19e22));
        // annotations
        drawAnns(ctx, chart, RPM, R_ANN, 17.5);
        // frame
        ctx.strokeStyle = '#000'; ctx.lineWidth = 1.3;
        ctx.strokeRect(a.left, a.top, a.right - a.left, a.bottom - a.top);
        ctx.lineWidth = 1;
        ctx.font = `25px ${SANS}`; ctx.textAlign = 'center'; ctx.textBaseline = 'alphabetic'; ctx.fillStyle = '#000';
        R_X_TICKS.forEach((v) => {
          const x = xs.getPixelForValue(v);
          ctx.beginPath(); ctx.moveTo(x, a.bottom); ctx.lineTo(x, a.bottom + 6); ctx.stroke();
          ctx.fillText(String(v), x, a.bottom + 31);
        });
        Y_TICK_EXP.forEach((e) => {
          const y = ys.getPixelForValue(10 ** e);
          ctx.beginPath(); ctx.moveTo(a.left, y); ctx.lineTo(a.left - 5, y); ctx.stroke();
          drawPow(ctx, e, a.left - 10, y);
        });
        ctx.font = `27px ${SANS}`; ctx.textAlign = 'center'; ctx.fillStyle = '#000';
        ctx.fillText('Year', (a.left + a.right) / 2, a.bottom + 61);
        ctx.save();
        ctx.translate(a.left - 73, (a.top + a.bottom) / 2);
        ctx.rotate(-Math.PI / 2);
        drawRich(ctx, yTitle(27), 0, 0, 'center');
        ctx.restore();
        // footnote
        ctx.font = `13px ${SANS}`; ctx.textAlign = 'left'; ctx.fillStyle = '#000';
        ctx.fillText('* maximum projected', xs.getPixelForValue(1960) + 1, a.bottom - 4);
        // legend (two columns)
        const bx = a.right - 339, by = a.bottom - 139;
        legendBox(ctx, bx, by, 330, 132);
        ctx.font = `15px ${SANS}`; ctx.textBaseline = 'middle';
        LEGEND.forEach(([lab, k], i) => {
          const col = i < 6 ? 0 : 1, row = i < 6 ? i : i - 6;
          const img = M[k], yy = by + 12.3 + row * 21.2;
          const mx = bx + 21 + col * 200, tx = bx + 48 + col * 201;
          ctx.drawImage(img, mx - img.width / 2, yy - img.height / 2);
          ctx.fillText(lab, tx, yy + 1);
        });
        // connecting arrows across both panels
        const lx = left.scales.x;
        ctx.fillStyle = '#000';
        fatArrow(ctx, lx.getPixelForValue(55.6), xs.getPixelForValue(1969.3), ys.getPixelForValue(1e22));
        fatArrow(ctx, lx.getPixelForValue(46.4), xs.getPixelForValue(1954.2), ys.getPixelForValue(1e21));
        const QF = (px: number) => `italic ${px}px ${SERIF}`;
        const UF = (px: number) => `${px}px ${SERIF}`;
        drawRich(ctx, [
          { t: 'Q', f: QF(34) }, { t: 'eng', f: QF(23), dy: 7 }, { t: ' ≥ 3  → ', f: UF(34) },
          { t: 'Q', f: QF(34) }, { t: 'sci', f: QF(23), dy: 7 }, { t: ' ≥ 20', f: UF(34) },
        ], 842, 68);
        ctx.font = `28px ${SANS}`; ctx.textAlign = 'left'; ctx.textBaseline = 'alphabetic'; ctx.fillStyle = '#000';
        ctx.fillText('Breakeven', 837, 130);
        drawRich(ctx, [{ t: 'Q', f: QF(34) }, { t: 'sci', f: QF(23), dy: 7 }, { t: ' = 1', f: UF(34) }], 997, 130);
        ctx.restore();
      },
    };

    const sdata = (arr: any[], img: any, color: string, showLine = true, order = 2) => ({
      data: pts(arr), showLine, borderColor: color, borderWidth: 2, pointStyle: img, pointRadius: 7, order,
    });

    const right = new Chart(rRef.current as HTMLCanvasElement, {
      type: 'line',
      data: {
        datasets: [
          { data: xy(R_Q1), borderColor: 'rgba(44,160,44,0.45)', borderWidth: 2, pointRadius: 0, order: 30 },
          { data: xy(R_Q2), borderColor: 'rgba(255,165,0,0.5)', borderWidth: 3, pointRadius: 0, order: 29 },
          { data: xy(R_Q10), borderColor: 'rgba(255,70,70,0.7)', borderWidth: 5, pointRadius: 0, order: 28 },
          { data: xy(R_QINF), borderColor: 'rgba(175,85,85,0.75)', borderWidth: 7, pointRadius: 0, order: 27 },
          { data: xy(R_ICF), borderColor: '#000', borderWidth: 1.5, pointRadius: 0, order: 26 },
          { data: xy(R_SPARC), fill: 'shape', backgroundColor: '#ff0000', borderColor: 'transparent', borderWidth: 0, pointRadius: 0, order: 25 },
          { data: xy(R_ITER), fill: 'shape', backgroundColor: '#ff0000', borderColor: 'transparent', borderWidth: 0, pointRadius: 0, order: 25 },
          sdata(R_PINCH, M.pin, '#bcbd22', false, 12),
          sdata(R_MIRROR, M.mir, '#8c564b', true, 11),
          sdata(R_SPHEROMAK, M.spm, '#e377c2', true, 10),
          sdata(R_ZPINCH, M.zp, '#1f77b4', true, 9),
          sdata(R_FRC, M.frc, '#17becf', true, 8),
          sdata(R_SPHTOK, M.sph, '#7f7f7f', true, 7),
          sdata(R_RFP, M.rfp, '#ff7f0e', true, 6),
          sdata(R_MAGLIF, M.mag, '#9467bd', false, 5),
          sdata(R_STELL, M.stel, '#2ca02c', true, 4),
          sdata(R_LASER, M.icf, '#000000', true, 3),
          sdata(R_TOKAMAK, M.tok, '#d62728', true, 2),
        ],
      },
      options: {
        responsive: false, animation: false, devicePixelRatio: 1, events: [],
        layout: { padding: { left: 1194, top: 24, right: W - 1865, bottom: H - 690 } },
        plugins: { legend: { display: false }, tooltip: { enabled: false } },
        scales: {
          x: {
            type: 'linear', min: 1950, max: 2045,
            grid: { color: '#c4c4c4', lineWidth: 1.5, drawTicks: false }, border: { display: false }, ticks: { display: false },
            afterBuildTicks: (s: any) => { s.ticks = R_X_TICKS.map((v) => ({ value: v })); },
          },
          y: {
            type: 'logarithmic', min: 1e12, max: 1e23,
            grid: { color: '#c4c4c4', lineWidth: 1.5, drawTicks: false }, border: { display: false }, ticks: { display: false },
            afterBuildTicks: (s: any) => { s.ticks = Y_TICK_EXP.map((e) => ({ value: 10 ** e })); },
          },
        },
      },
      plugins: [rightDecor],
    } as any);

    return () => { right.destroy(); left.destroy(); };
  }, []);

  const cs: any = { position: 'absolute', left: 0, top: 0, width: W, height: H };
  return (
    <div style={{ position: 'fixed', left: 0, top: 0, width: W, height: H, background: '#fff', overflow: 'hidden' }}>
      <canvas ref={lRef} width={W} height={H} style={cs} />
      <canvas ref={rRef} width={W} height={H} style={cs} />
    </div>
  );
}
